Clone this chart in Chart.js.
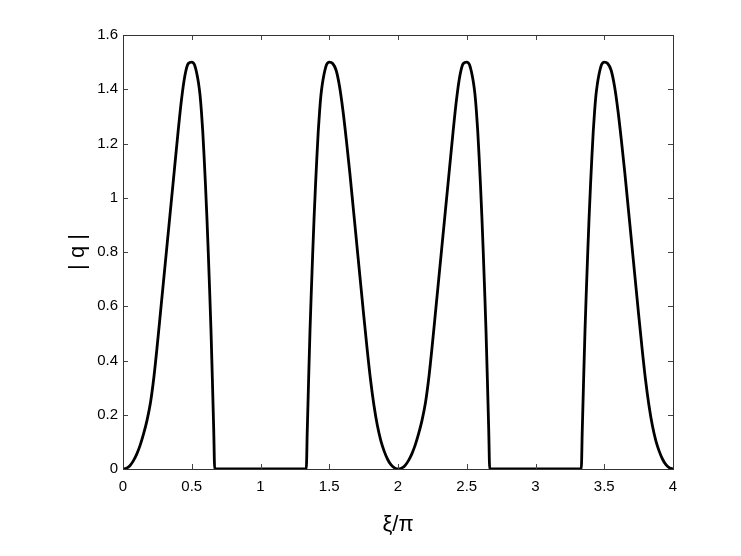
<!DOCTYPE html>
<html>
<head>
<meta charset="utf-8">
<script src="https://cdn.jsdelivr.net/npm/chart.js@4/dist/chart.umd.min.js"></script>
<style>
  html, body { margin: 0; padding: 0; background: #fff; }
  canvas { display: block; }
</style>
</head>
<body>
<canvas id="c" width="741" height="556"></canvas>
<script>
// ---- data ----
const hump1Xi = [0,0.025,0.05,0.075,0.1,0.125,0.15,0.175,0.2,0.225,0.25,0.275,0.3,0.325,0.35,0.375,0.4,0.425,0.45,0.475,0.5,0.52,0.54,0.55,0.56,0.57,0.58,0.59,0.6,0.61,0.62,0.63,0.64,0.65,0.66,0.667];
const hump1Q  = [0,0.003,0.012,0.03,0.055,0.088,0.13,0.18,0.245,0.34,0.46,0.59,0.72,0.85,0.98,1.11,1.24,1.36,1.45,1.495,1.5,1.49,1.45,1.42,1.38,1.32,1.245,1.15,1.045,0.93,0.8,0.66,0.51,0.33,0.14,0];

const hump2Xi = [1.333,1.34,1.35,1.36,1.37,1.38,1.39,1.4,1.41,1.42,1.43,1.44,1.45,1.46,1.48,1.5,1.525,1.55,1.575,1.6,1.625,1.65,1.675,1.7,1.725,1.75,1.775,1.8,1.825,1.85,1.875,1.9,1.925,1.95,1.975,2];
const hump2Q  = [0,0.14,0.33,0.51,0.66,0.8,0.93,1.045,1.15,1.245,1.32,1.38,1.42,1.45,1.49,1.5,1.495,1.47,1.41,1.32,1.21,1.09,0.96,0.83,0.7,0.57,0.445,0.33,0.235,0.16,0.105,0.065,0.035,0.015,0.004,0];

const hump3Xi = [2.025,2.05,2.075,2.1,2.125,2.15,2.175,2.2,2.225,2.25,2.275,2.3,2.325,2.35,2.375,2.4,2.425,2.45,2.475,2.5,2.52,2.54,2.55,2.56,2.57,2.58,2.59,2.6,2.61,2.62,2.63,2.64,2.65,2.66,2.667];
const hump3Q  = [0.003,0.012,0.03,0.055,0.088,0.13,0.18,0.245,0.34,0.46,0.59,0.72,0.85,0.98,1.11,1.24,1.36,1.45,1.495,1.5,1.49,1.45,1.42,1.38,1.32,1.245,1.15,1.045,0.93,0.8,0.66,0.51,0.33,0.14,0];

const hump4Xi = [3.333,3.34,3.35,3.36,3.37,3.38,3.39,3.4,3.41,3.42,3.43,3.44,3.45,3.46,3.48,3.5,3.525,3.55,3.575,3.6,3.625,3.65,3.675,3.7,3.725,3.75,3.775,3.8,3.825,3.85,3.875,3.9,3.925,3.95,3.975,4];
const hump4Q  = [0,0.14,0.33,0.51,0.66,0.8,0.93,1.045,1.15,1.245,1.32,1.38,1.42,1.45,1.49,1.5,1.495,1.47,1.41,1.32,1.21,1.09,0.96,0.83,0.7,0.57,0.445,0.33,0.235,0.16,0.105,0.065,0.035,0.015,0.004,0];

const xTicks = [0, 0.5, 1, 1.5, 2, 2.5, 3, 3.5, 4];
const xTickLabels = ['0', '0.5', '1', '1.5', '2', '2.5', '3', '3.5', '4'];
const yTicks = [0, 0.2, 0.4, 0.6, 0.8, 1, 1.2, 1.4, 1.6];
const yTickLabels = ['0', '0.2', '0.4', '0.6', '0.8', '1', '1.2', '1.4', '1.6'];

const xTitle = 'ξ/π';
const yTitle = '| q |';

// ---- build points ----
const xiAll = [].concat(hump1Xi, hump2Xi, hump3Xi, hump4Xi);
const qAll = [].concat(hump1Q, hump2Q, hump3Q, hump4Q);
const points = xiAll.map((x, i) => ({ x: x, y: qAll[i] }));

const TICK_LEN = 5;
const boxPlugin = {
  id: 'matlabBox',
  afterDraw(chart) {
    const { ctx, chartArea: a, scales } = chart;
    ctx.save();
    ctx.strokeStyle = '#444';
    ctx.lineWidth = 1;
    ctx.beginPath();
    xTicks.forEach(v => {
      const px = Math.round(scales.x.getPixelForValue(v)) + 0.5;
      ctx.moveTo(px, a.bottom); ctx.lineTo(px, a.bottom - TICK_LEN);
      ctx.moveTo(px, a.top); ctx.lineTo(px, a.top + TICK_LEN);
    });
    yTicks.forEach(v => {
      const py = Math.round(scales.y.getPixelForValue(v)) + 0.5;
      ctx.moveTo(a.left, py); ctx.lineTo(a.left + TICK_LEN, py);
      ctx.moveTo(a.right, py); ctx.lineTo(a.right - TICK_LEN, py);
    });
    ctx.stroke();
    ctx.strokeStyle = '#333';
    ctx.strokeRect(Math.round(a.left) + 0.5, Math.round(a.top) + 0.5,
                   Math.round(a.right - a.left), Math.round(a.bottom - a.top));
    ctx.restore();
  }
};

new Chart(document.getElementById('c').getContext('2d'), {
  type: 'scatter',
  data: {
    datasets: [{
      data: points,
      showLine: true,
      borderColor: '#000',
      borderWidth: 2.8,
      pointRadius: 0,
      cubicInterpolationMode: 'monotone',
      fill: false
    }]
  },
  options: {
    responsive: false,
    animation: false,
    layout: { padding: { top: 35, right: 68, left: 0, bottom: 0 } },
    plugins: { legend: { display: false }, tooltip: { enabled: false } },
    scales: {
      x: {
        type: 'linear', min: 0, max: 4,
        afterBuildTicks: s => { s.ticks = xTicks.map(v => ({ value: v })); },
        afterFit: s => { s.height = 87; },
        ticks: {
          callback: (v) => xTickLabels[xTicks.indexOf(v)],
          font: { family: 'Liberation Sans', size: 15 }, color: '#000',
          padding: 9, maxRotation: 0, autoSkip: false
        },
        grid: { drawOnChartArea: false, drawTicks: false },
        border: { display: false },
        title: {
          display: true, text: xTitle, color: '#000',
          font: { family: 'Liberation Sans', size: 22 },
          padding: { top: 0, bottom: 18 }
        }
      },
      y: {
        type: 'linear', min: 0, max: 1.6,
        afterBuildTicks: s => { s.ticks = yTicks.map(v => ({ value: v })); },
        afterFit: s => { s.width = 123; },
        ticks: {
          callback: (v) => yTickLabels[yTicks.indexOf(v)],
          font: { family: 'Liberation Sans', size: 15 }, color: '#000',
          padding: 5, autoSkip: false
        },
        grid: { drawOnChartArea: false, drawTicks: false },
        border: { display: false },
        title: {
          display: true, text: yTitle, color: '#000',
          font: { family: 'Liberation Sans', size: 22 },
          padding: { top: 65, bottom: 0 }
        }
      }
    }
  },
  plugins: [boxPlugin]
});
</script>
</body>
</html>
